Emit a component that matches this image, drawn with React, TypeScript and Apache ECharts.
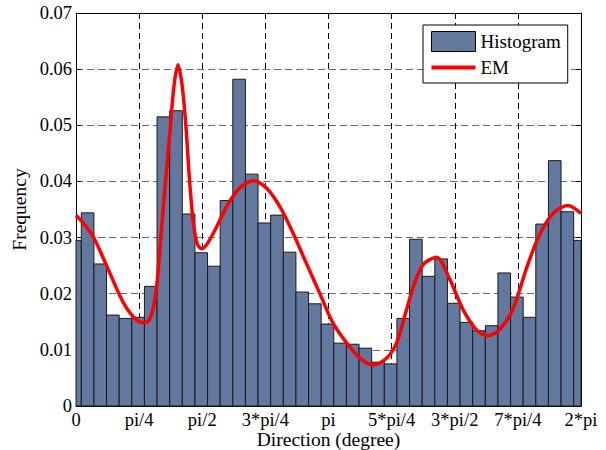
import React, { useEffect, useRef } from "react";
import * as echarts from "echarts";

// x axis is measured in units of pi/4 (0 .. 8 == 0 .. 2*pi)
const xTickLabels = ["0", "pi/4", "pi/2", "3*pi/4", "pi", "5*pi/4", "3*pi/2", "7*pi/4", "2*pi"];
const yTickMax = 0.07;
const yTickStep = 0.01;

// Histogram: 41 bins of width pi/20 (0.2 units), first edge slightly left of 0
const binStart = -0.116;
const binWidth = 0.2;
const histValues = [
  0.0295, 0.0344, 0.0253, 0.0162, 0.0156, 0.0158, 0.0213, 0.0515, 0.0526, 0.0342,
  0.0273, 0.0249, 0.0366, 0.0582, 0.0413, 0.0326, 0.034, 0.0274, 0.0203, 0.0182,
  0.0146, 0.0112, 0.011, 0.0103, 0.0078, 0.0075, 0.0156, 0.0297, 0.0231, 0.0262,
  0.0183, 0.0149, 0.0134, 0.0143, 0.0237, 0.0194, 0.0158, 0.0324, 0.0437, 0.0346,
  0.0295,
];

// EM density curve (x in pi/4 units, frequency)
const emX = [
  0, 0.25, 0.5, 0.75, 0.95, 1.09, 1.17, 1.23, 1.28, 1.33, 1.38, 1.43, 1.49, 1.55, 1.615,
  1.68, 1.74, 1.8, 1.86, 1.92, 1.99, 2.08, 2.2, 2.4, 2.6, 2.81, 3.02, 3.23, 3.45, 3.65,
  3.86, 4.07, 4.29, 4.5, 4.71, 4.92, 5.08, 5.22, 5.36, 5.5, 5.71, 5.92, 6.13, 6.34,
  6.52, 6.71, 6.92, 7.13, 7.33, 7.556, 7.79, 8.0,
];
const emY = [
  0.034, 0.0306, 0.0246, 0.0184, 0.0154, 0.0148, 0.0156, 0.0178, 0.0215, 0.028, 0.035,
  0.0415, 0.049, 0.0568, 0.0608, 0.0572, 0.05, 0.04, 0.0325, 0.0289, 0.028, 0.0289,
  0.0313, 0.0358, 0.0389, 0.0401, 0.0388, 0.0355, 0.0305, 0.0254, 0.0201, 0.0148,
  0.0112, 0.0085, 0.0073, 0.0085, 0.0113, 0.0165, 0.0218, 0.0252, 0.0265, 0.0226,
  0.0172, 0.0136, 0.0125, 0.0136, 0.0172, 0.0243, 0.0302, 0.0343, 0.0357, 0.0343,
];

const BAR_COLOR = "#62789f";
const FONT = "'Liberation Serif', 'Times New Roman', serif";

export default function App() {
  const ref = useRef<HTMLDivElement>(null);
  useEffect(() => {
    if (!ref.current) return;
    const chart = echarts.init(ref.current, undefined, { renderer: "svg" });
    const histData = histValues.map((v, k) => [binStart + k * binWidth, binStart + (k + 1) * binWidth, v]);
    const emData = emX.map((x, i) => [x, emY[i]]);
    const tickText = { fontFamily: FONT, fontSize: 18.5, color: "#000" };
    const nameText = { fontFamily: FONT, fontSize: 19.5, color: "#000" };
    const baseX = {
      type: "value",
      min: 0,
      max: 8,
      interval: 1,
      axisLine: { show: true, onZero: false, lineStyle: { color: "#000", width: 1 } },
      axisTick: { show: true, inside: true, length: 5, lineStyle: { color: "#000" } },
    };
    const baseY = {
      type: "value",
      min: 0,
      max: yTickMax,
      interval: yTickStep,
      axisLine: { show: true, onZero: false, lineStyle: { color: "#000", width: 1 } },
      axisTick: { show: true, inside: true, length: 5, lineStyle: { color: "#000" } },
    };
    chart.setOption({
      animation: false,
      backgroundColor: "#fff",
      grid: { left: 76, right: 25, top: 13, bottom: 44, containLabel: false, outerBoundsMode: "none" },
      legend: {
        orient: "vertical",
        left: 423,
        top: 25,
        padding: [6, 7, 6, 8],
        itemWidth: 44,
        itemHeight: 20,
        itemGap: 6,
        borderColor: "#000",
        borderWidth: 1,
        borderRadius: 0,
        backgroundColor: "#fff",
        textStyle: { fontFamily: FONT, fontSize: 19, color: "#000" },
        data: [
          { name: "Histogram", icon: "rect", itemStyle: { color: BAR_COLOR, borderColor: "#000", borderWidth: 1 } },
          { name: "EM", icon: "path://M0,0H44V4H0Z", itemStyle: { color: "#ff0000", borderWidth: 0 } },
        ],
      },
      xAxis: [
        {
          ...baseX,
          position: "bottom",
          name: "Direction (degree)",
          nameLocation: "middle",
          nameGap: 24,
          nameMoveOverlap: false,
          nameTextStyle: { ...nameText, lineHeight: 18 },
          axisLabel: {
            ...tickText,
            lineHeight: 17,
            margin: 5,
            formatter: (v: number) => xTickLabels[Math.round(v)] ?? "",
          },
          splitLine: { show: true, lineStyle: { color: "#000", type: [6, 4], width: 1 } },
        },
        {
          ...baseX,
          position: "top",
          axisLabel: { show: false },
          splitLine: { show: false },
        },
      ],
      yAxis: [
        {
          ...baseY,
          position: "left",
          name: "Frequency",
          nameLocation: "middle",
          nameGap: 47,
          nameMoveOverlap: false,
          nameTextStyle: { ...nameText },
          axisLabel: {
            ...tickText,
            margin: 4,
            formatter: (v: number) => (v === 0 ? "0" : v.toFixed(2)),
          },
          splitLine: { show: true, lineStyle: { color: "#6a6a6a", type: [7, 4], width: 1 } },
        },
        {
          ...baseY,
          position: "right",
          axisLabel: { show: false },
          splitLine: { show: false },
        },
      ],
      series: [
        {
          name: "Histogram",
          type: "custom",
          xAxisIndex: 0,
          yAxisIndex: 0,
          itemStyle: { color: BAR_COLOR },
          encode: { x: [0, 1], y: 2 },
          data: histData,
          z: 2,
          renderItem: (params: any, api: any) => {
            const x0 = api.value(0);
            const x1 = api.value(1);
            const h = api.value(2);
            const a = api.coord([x0, h]);
            const b = api.coord([x1, 0]);
            const cs = params.coordSys;
            const left = Math.max(a[0], cs.x);
            const right = Math.min(b[0], cs.x + cs.width);
            return {
              type: "rect",
              shape: { x: left, y: a[1], width: Math.max(0, right - left), height: b[1] - a[1] },
              style: { fill: BAR_COLOR, stroke: "#1a1a1a", lineWidth: 1 },
            };
          },
        },
        {
          name: "EM",
          type: "line",
          xAxisIndex: 0,
          yAxisIndex: 0,
          data: emData,
          showSymbol: false,
          symbol: "none",
          smooth: 0.3,
          z: 3,
          itemStyle: { color: "#ff0000" },
          lineStyle: { color: "#ff0000", width: 3.5 },
        },
      ],
    });
    return () => chart.dispose();
  }, []);
  return <div ref={ref} style={{ position: "fixed", left: 0, top: 0, width: 606, height: 450 }} />;
}
